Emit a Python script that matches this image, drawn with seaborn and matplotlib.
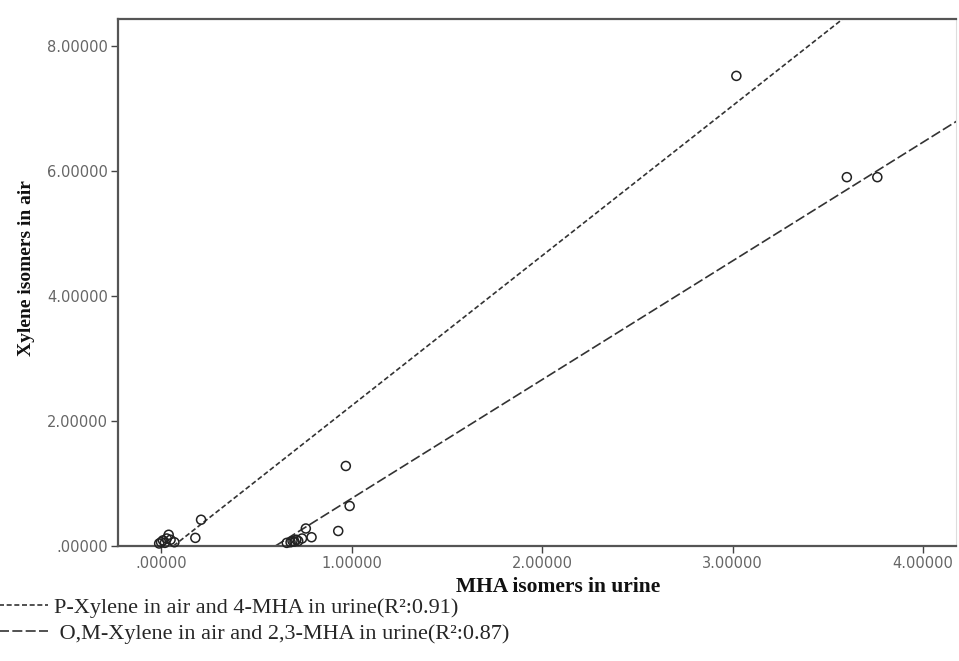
import matplotlib
matplotlib.use("Agg")
import matplotlib.pyplot as plt
import seaborn as sns
import pandas as pd
from matplotlib.ticker import FuncFormatter

# ---- data ----
p_x = [-0.01, 0.00, 0.01, 0.02, 0.03, 0.04, 0.05, 0.07, 0.18, 0.21, 3.02]
p_y = [0.04, 0.06, 0.09, 0.05, 0.12, 0.18, 0.10, 0.06, 0.13, 0.42, 7.52]

om_x = [0.66, 0.68, 0.69, 0.70, 0.71, 0.72, 0.74, 0.76, 0.79, 0.93, 0.97, 0.99, 3.60, 3.76]
om_y = [0.05, 0.06, 0.08, 0.07, 0.10, 0.08, 0.12, 0.28, 0.14, 0.24, 1.28, 0.64, 5.90, 5.90]

# fitted lines (end points)
p_fit_x = [0.065, 3.62]
p_fit_y = [0.0, 8.53]
om_fit_x = [0.60, 4.20]
om_fit_y = [0.0, 6.84]

x_ticks = [0, 1, 2, 3, 4]
y_ticks = [0, 2, 4, 6, 8]

p_label = "P-Xylene in air and 4-MHA in urine(R²:0.91)"
om_label = " O,M-Xylene in air and 2,3-MHA in urine(R²:0.87)"
x_title = "MHA isomers in urine"
y_title = "Xylene isomers in air"

sns.set_style("white")
plt.rcParams['font.family'] = ['DejaVu Sans']

fig = plt.figure(figsize=(9.59, 6.61), dpi=100)
ax = fig.add_axes([118/959, 115/661, (956-118)/959, (546-19)/661])

pts = pd.DataFrame({
    "x": p_x + om_x,
    "y": p_y + om_y,
    "grp": ["p"] * len(p_x) + ["om"] * len(om_x),
})
sns.scatterplot(data=pts, x="x", y="y", ax=ax, marker="o", s=42,
                facecolor="none", edgecolor="#222222", linewidth=1.1,
                legend=False, clip_on=False, zorder=3)

sns.lineplot(x=p_fit_x, y=p_fit_y, ax=ax, color="#333333", linewidth=1.2,
             sort=False, label=p_label)
ax.lines[-1].set_dashes([3, 1.6])
sns.lineplot(x=om_fit_x, y=om_fit_y, ax=ax, color="#333333", linewidth=1.2,
             sort=False, label=om_label)
ax.lines[-1].set_dashes([6, 2])

ax.set_xlim(-0.226, 4.173)
ax.set_ylim(0, 8.43)
ax.set_xticks(x_ticks)
ax.set_yticks(y_ticks)

def fmt(v, pos):
    s = f"{v:.5f}"
    if s.startswith("0"):
        s = s[1:]
    return s

ax.xaxis.set_major_formatter(FuncFormatter(fmt))
ax.yaxis.set_major_formatter(FuncFormatter(fmt))
ax.tick_params(axis="both", which="major", direction="out", length=5,
               width=1, color="#444444", labelsize=10.5, labelcolor="#666666",
               bottom=True, left=True, pad=2)

for side in ["left", "bottom", "top"]:
    ax.spines[side].set_color("#555555")
    ax.spines[side].set_linewidth(1.6)
ax.spines["right"].set_color("#dddddd")
ax.spines["right"].set_linewidth(0.8)

ax.set_xlabel(x_title, family="Liberation Serif", fontweight="bold",
              fontsize=15.5, color="#111111")
ax.xaxis.set_label_coords(0.525, -0.058)
ax.set_ylabel(y_title, family="Liberation Serif", fontweight="bold",
              fontsize=14, color="#111111")
ax.yaxis.set_label_coords(-0.099, 0.527)

handles, labels = ax.get_legend_handles_labels()
if ax.get_legend():
    ax.get_legend().remove()
fig.legend(handles, labels, loc="upper left",
           bbox_to_anchor=(-0.006, 64/661), frameon=False,
           prop={"family": "Liberation Serif", "size": 16},
           handlelength=2.4, handletextpad=0.3, labelspacing=0.25,
           borderaxespad=0, borderpad=0)

fig.savefig("out.png", dpi=100, facecolor="white")
